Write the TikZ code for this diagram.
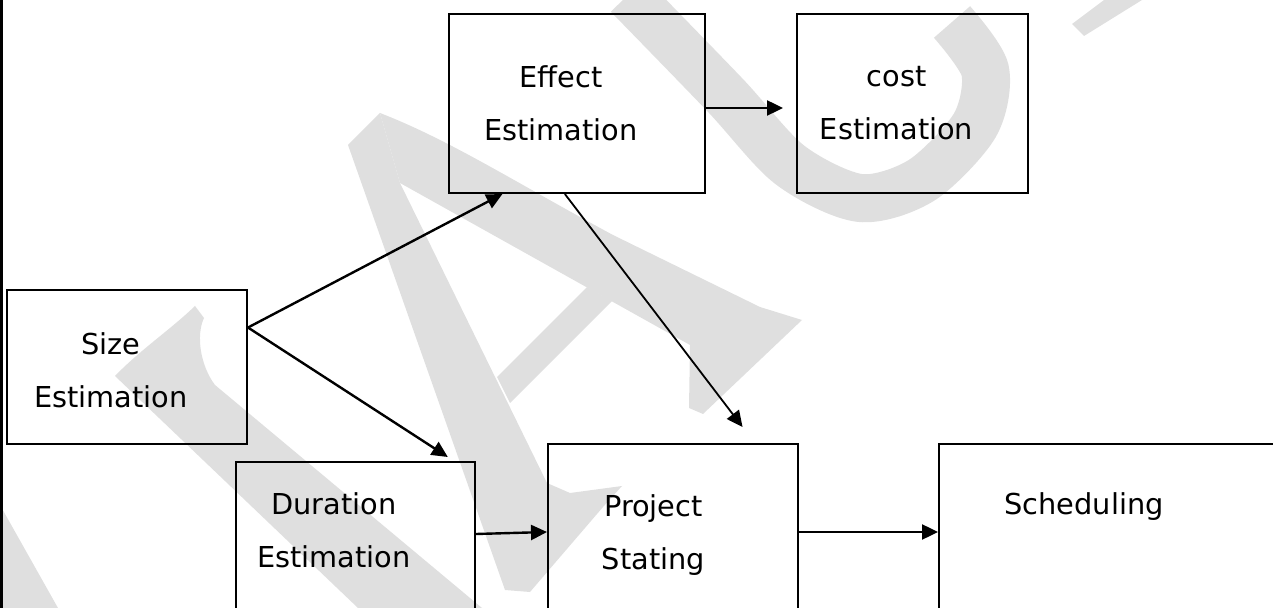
\documentclass[tikz,border=0pt]{standalone}
\usepackage{fontspec}
\setmainfont{DejaVu Sans}
\usetikzlibrary{arrows.meta,calc}
\definecolor{wmark}{HTML}{DFDFDF}

\begin{document}
\begin{tikzpicture}[x=0.5pt,y=-0.5pt,
	box/.style={draw,line width=1pt,inner sep=0pt},
	lbl/.style={align=center,font=\fontsize{14.4}{26.5}\selectfont},
	conn/.style={line width=1.2pt,-{Triangle[length=8pt,width=7.5pt]}}]
	\useasboundingbox (0,0) rectangle (1273,608);
	\clip (0,0) rectangle (1273,608);

	% watermark behind the chart
	\fill[wmark] (195,306) -- (204,318) .. controls (196,335) and (200,365) .. (215,385) -- (482,608) -- (358,608) -- (115,376) .. controls (140,350) and (170,330) .. (195,306) -- cycle;
	\fill[wmark] (0,505) -- (58,608) -- (0,608) -- cycle;
	\fill[wmark] (380,113) -- (348,145) -- (505,590) -- (530,592) -- (603,507) -- (622,486) -- (570,493) -- (547,483) -- (400,183) -- cycle;
	\fill[wmark] (380,113) .. controls (450,140) and (520,185) .. (613,235) -- (760,307) -- (802,320) -- (703,414) -- (689,408) -- (690,345) -- (400,183) -- cycle;
	\fill[wmark] (497,377) -- (587,287) -- (612,301) -- (510,403) -- cycle;
	\draw[wmark,line width=24pt] plot[smooth] coordinates {(628,-5) (725,95) (790,165) (860,198) (922,180) (975,125) (985,70) (952,22)};
	\fill[wmark] (1072,24) -- (1084,36) -- (1142,0) -- (1104,0) -- cycle;

	\fill (0,0) rectangle (3,608);

	% boxes
	\node[box,minimum width=120pt,minimum height=77pt] (size) at (127,367) {};
	\node[box,minimum width=128pt,minimum height=89.5pt] (effect) at (577,103.5) {};
	\node[box,minimum width=115.5pt,minimum height=89.5pt] (cost) at (912.5,103.5) {};
	\node[box,minimum width=119.5pt,minimum height=99pt] (duration) at (355.5,561) {};
	\node[box,minimum width=125pt,minimum height=108pt] (proj) at (673,552) {};
	\node[box,minimum width=190.5pt,minimum height=108pt] (sched) at (1129.5,552) {};

	% texts
	\node[lbl] (sizetxt) at ([xshift=-8pt,yshift=-1.5pt]size.center) {Size\\Estimation};
	\node[lbl] (efftxt) at ([xshift=-8pt]effect.center) {Effect\\Estimation};
	\node[lbl] (costtxt) at ([xshift=-8pt]cost.center) {cost\\Estimation};
	\node[lbl] (durtxt) at ([xshift=-10.75pt,yshift=-34.5pt]duration.north) {Duration\\Estimation};
	\node[lbl] (projtxt) at ([xshift=-9.75pt,yshift=-46pt]proj.north) {Project\\Stating};
	\node[lbl] (schedtxt) at ([xshift=73pt,yshift=-32pt]sched.north west) {Scheduling};

	% connectors
	\coordinate (sizeout) at ($(size.north east)!0.247!(size.south east)$);
	\draw[conn] (sizeout) -- ($(effect.south west)!0.211!(effect.south east)$);
	\draw[conn] (sizeout) -- ($(duration.north west)!0.883!(duration.north east)+(0,-4)$);
	\draw[conn,line width=0.9pt] ($(effect.south west)!0.453!(effect.south east)$) -- ($(proj.north west)!0.776!(proj.north east)+(0,-16)$);
	\draw[conn] ($(effect.east)+(0,4.5)$) -- ($(cost.west)+(-13,4.5)$);
	\draw[conn] ($(duration.north east)+(0,73)$) -- ($(proj.north west)+(0,89)$);
	\draw[conn] ($(proj.north east)+(0,89)$) -- ($(sched.north west)+(0,89)$);
\end{tikzpicture}
\end{document}
